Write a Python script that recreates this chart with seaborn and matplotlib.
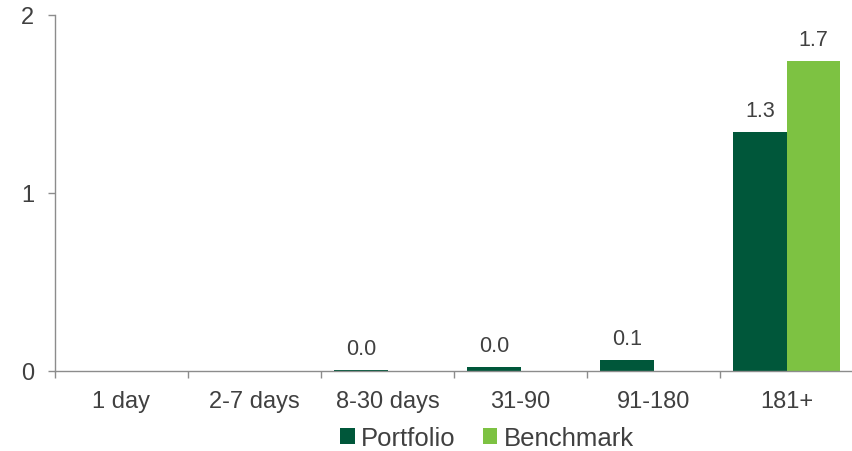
import numpy as np
import pandas as pd
import matplotlib
matplotlib.use("Agg")
import matplotlib.pyplot as plt
from matplotlib.patches import Patch
import seaborn as sns

# Holding-period buckets and the share held in each
categories = ["1 day", "2-7 days", "8-30 days", "31-90", "91-180", "181+"]
portfolio = [np.nan, np.nan, 0.003, 0.02, 0.06, 1.34]
benchmark = [np.nan, np.nan, np.nan, np.nan, np.nan, 1.74]
series = ["Portfolio", "Benchmark"]
colors = ["#00573A", "#7DC242"]
y_ticks = [0, 1, 2]

TEXT = "#404040"
AXIS = "#8C8C8C"

df = pd.DataFrame({
    "bucket": categories * 2,
    "series": [series[0]] * len(categories) + [series[1]] * len(categories),
    "value": portfolio + benchmark,
})

sns.set_theme(style="white")
plt.rcParams["font.family"] = ["Liberation Sans", "DejaVu Sans"]

fig = plt.figure(figsize=(8.52, 4.52), dpi=100)
ax = fig.add_axes([55 / 852, 1 - 372 / 452, 798 / 852, (372 - 16) / 452])

sns.barplot(data=df, x="bucket", y="value", hue="series", order=categories,
            hue_order=series, palette=colors, errorbar=None, width=0.8,
            linewidth=0, saturation=1, ax=ax)

# value labels above each drawn bar
for cont in ax.containers:
    labels = []
    for p in cont.patches:
        h = p.get_height()
        labels.append("" if (h is None or np.isnan(h)) else f"{h:.1f}")
    ax.bar_label(cont, labels=labels, padding=8, fontsize=15.5, color=TEXT)

ax.set_ylim(0, 2)
ax.set_xlim(-0.5, len(categories) - 0.5)
ax.set_yticks(y_ticks)
ax.set_yticklabels([str(t) for t in y_ticks])
ax.set_xlabel("")
ax.set_ylabel("")

for s in ["top", "right"]:
    ax.spines[s].set_visible(False)
for s in ["left", "bottom"]:
    ax.spines[s].set_color(AXIS)
    ax.spines[s].set_linewidth(1.0)

ax.tick_params(axis="y", which="major", length=5, width=1, color=AXIS,
               labelsize=17, labelcolor=TEXT, pad=10, left=True)
ax.tick_params(axis="x", which="major", length=0, labelsize=17,
               labelcolor=TEXT, pad=14)
ax.set_xticks(np.arange(-0.5, len(categories), 1.0), minor=True)
ax.tick_params(axis="x", which="minor", length=5, width=1, color=AXIS,
               bottom=True)

if ax.get_legend() is not None:
    ax.get_legend().remove()
handles = [Patch(facecolor=c, edgecolor="none", label=s) for s, c in zip(series, colors)]
fig.legend(handles=handles, loc="center", bbox_to_anchor=(487 / 852, 1 - 439 / 452),
           ncol=2, frameon=False, fontsize=18.5, labelcolor=TEXT,
           handlelength=0.56, handleheight=0.56, handletextpad=0.25,
           columnspacing=1.05, borderpad=0)

fig.savefig("out.png", dpi=100)
